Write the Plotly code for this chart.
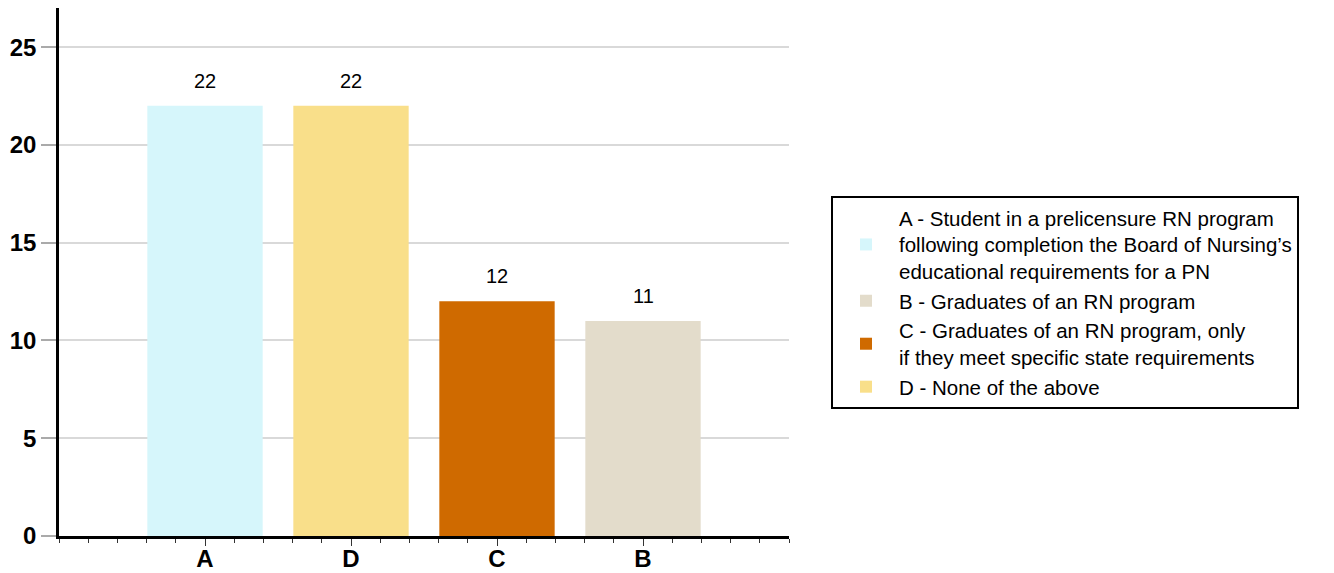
import plotly.graph_objects as go

categories = ["A", "D", "C", "B"]
values = [22, 22, 12, 11]
colors = ["#d6f6fb", "#f9df8a", "#cf6a00", "#e3dccb"]
legend_names = {
    "A": "A - Student in a prelicensure RN program<br>following completion the Board of Nursing’s<br>educational requirements for a PN",
    "B": "B - Graduates of an RN program",
    "C": "C - Graduates of an RN program, only<br>if they meet specific state requirements",
    "D": "D - None of the above",
}
legend_order = ["A", "B", "C", "D"]
y_ticks = [0, 5, 10, 15, 20, 25]

FONT = "Liberation Sans, Arial, sans-serif"

fig = go.Figure()
pos = {c: i for i, c in enumerate(categories)}
for c in legend_order:
    i = pos[c]
    fig.add_trace(go.Bar(
        x=[i], y=[values[i]], name=legend_names[c],
        marker=dict(color=colors[i], line=dict(width=0)),
        width=0.79, showlegend=True,
    ))
    fig.add_annotation(x=i, y=values[i], text=str(values[i]), showarrow=False,
                       yanchor="bottom", yshift=12,
                       font=dict(family=FONT, size=20, color="#000"))

fig.update_layout(
    width=1326, height=565,
    margin=dict(l=51, r=545, t=0, b=37, autoexpand=False),
    plot_bgcolor="white", paper_bgcolor="white",
    barmode="overlay",
    font=dict(family=FONT, color="#000"),
    legend=dict(x=1.0575, y=0.644, xanchor="left", yanchor="top",
                bordercolor="#000", borderwidth=2, bgcolor="white",
                font=dict(size=20.5, family=FONT),
                itemwidth=56,
                traceorder="normal", tracegroupgap=0),
    xaxis=dict(range=[-1, 4], tickvals=list(range(len(categories))), ticktext=categories,
               automargin=False,
               showgrid=False, zeroline=False, showline=True, linecolor="#000", linewidth=2.5,
               ticks="outside", ticklen=7, tickcolor="#333", tickwidth=1,
               ticklabelstandoff=-8,
               tickfont=dict(size=24, family=FONT, weight="bold"),
               minor=dict(ticks="outside", dtick=0.2, tick0=-1, ticklen=4, tickcolor="#333", tickwidth=1, showgrid=False)),
    yaxis=dict(range=[0, 27], tickvals=y_ticks, showgrid=True, gridcolor="#d9d9d9", gridwidth=2,
               automargin=False,
               zeroline=False, showline=True, linecolor="#000", linewidth=2.5,
               ticks="outside", ticklen=15, tickcolor="#aaa", tickwidth=2,
               tickfont=dict(size=24, family=FONT, weight="bold")),
)

fig.write_html("out.html")
